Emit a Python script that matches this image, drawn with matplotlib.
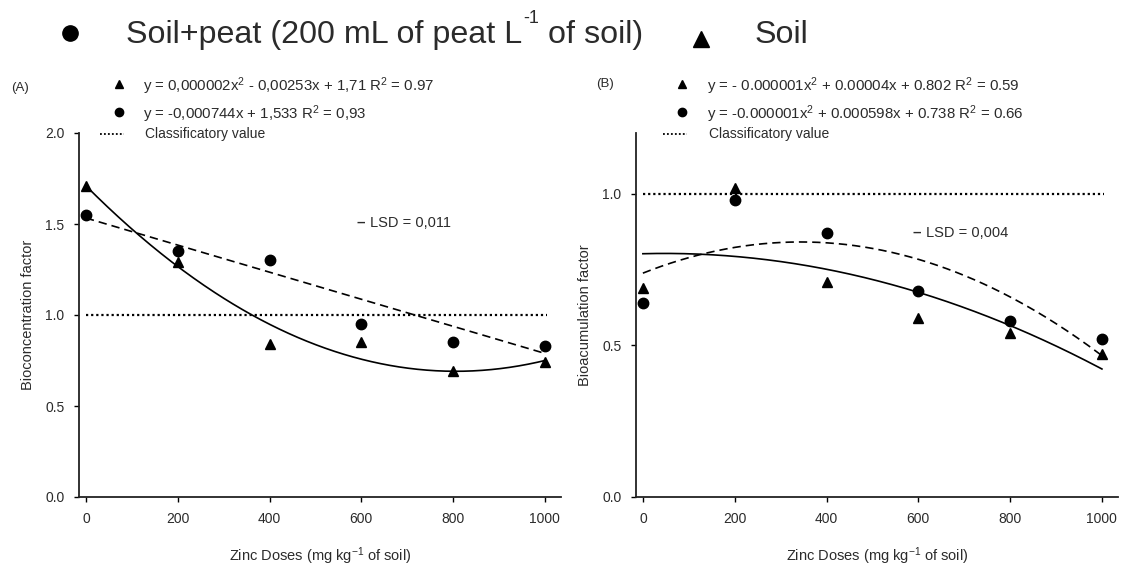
import numpy as np
import matplotlib
matplotlib.use("Agg")
import matplotlib.pyplot as plt
from matplotlib.lines import Line2D

plt.rcParams["font.family"] = ["Liberation Sans", "DejaVu Sans"]
plt.rcParams["mathtext.fontset"] = "custom"
plt.rcParams["mathtext.rm"] = "Liberation Sans"
plt.rcParams["mathtext.it"] = "Liberation Sans:italic"
plt.rcParams["mathtext.bf"] = "Liberation Sans:bold"

TEXT = "#2b2b2b"

# ---- data -------------------------------------------------------------
doses = [0, 200, 400, 600, 800, 1000]

# (A) bioconcentration factor
bcf_soil = [1.71, 1.29, 0.84, 0.85, 0.69, 0.74]
bcf_peat = [1.55, 1.35, 1.30, 0.95, 0.85, 0.83]
# (B) bioaccumulation factor
baf_soil = [0.69, 1.02, 0.71, 0.59, 0.54, 0.47]
baf_peat = [0.64, 0.98, 0.87, 0.68, 0.58, 0.52]

# fitted regression coefficients (a x^2 + b x + c)
fit_bcf_soil = [1.57e-6, -0.00253, 1.71]
fit_bcf_peat = [0.0, -0.000744, 1.533]
fit_baf_soil = [-4.2e-7, 0.00004, 0.802]
fit_baf_peat = [-8.7e-7, 0.000598, 0.738]

classificatory_value = 1.0

eq_a = ["y = 0,000002x$^2$ - 0,00253x + 1,71 R$^2$ = 0.97",
        "y = -0,000744x + 1,533 R$^2$ = 0,93"]
eq_b = ["y = - 0.000001x$^2$ + 0.00004x + 0.802 R$^2$ = 0.59",
        "y = -0.000001x$^2$ + 0.000598x + 0.738 R$^2$ = 0.66"]
lsd_a = "LSD = 0,011"
lsd_b = "LSD = 0,004"
lsd_pos_a = (590, 1.505)
lsd_pos_b = (587, 0.87)

xticks = [0, 200, 400, 600, 800, 1000]
yticks_a = [0.0, 0.5, 1.0, 1.5, 2.0]
yticks_b = [0.0, 0.5, 1.0]

# ---- figure -------------------------------------------------------------
W, H = 1122, 565
fig = plt.figure(figsize=(W / 100, H / 100), dpi=100)


def fx(px):
    return px / W


def fy(py):
    return 1 - py / H


axA = fig.add_axes([fx(79), fy(497), fx(482), (497 - 133) / H])
axB = fig.add_axes([fx(636), fy(497), fx(482), (497 - 133) / H])

xs = np.linspace(0, 1000, 300)


def draw_panel(ax, soil, peat, fit_soil, fit_peat, ylim, yticks, ylabel,
               lsd_text, lsd_pos):
    ax.plot(xs, np.polyval(fit_soil, xs), color="black", lw=1.2, zorder=2)
    ax.plot(xs, np.polyval(fit_peat, xs), color="black", lw=1.2,
            linestyle=(0, (5, 3)), zorder=2)
    ax.plot([0, 1005], [classificatory_value] * 2, color="black", lw=1.6,
            linestyle=(0, (1, 1.3)), zorder=1)
    ax.plot(doses, soil, linestyle="none", marker="^", ms=7.5,
            color="black", zorder=3)
    ax.plot(doses, peat, linestyle="none", marker="o", ms=7.5,
            color="black", zorder=3)
    ax.set_xlim(-15, 1035)
    ax.set_ylim(*ylim)
    ax.set_xticks(xticks)
    ax.set_yticks(yticks)
    ax.set_yticklabels([f"{v:.1f}" for v in yticks])
    for s in ("top", "right"):
        ax.spines[s].set_visible(False)
    for s in ("left", "bottom"):
        ax.spines[s].set_linewidth(1.3)
        ax.spines[s].set_color("#222222")
    ax.tick_params(direction="out", length=3.5, width=1.0, labelsize=10,
                   labelcolor=TEXT, pad=7)
    ax.set_xlabel("Zinc Doses (mg kg$^{-1}$ of soil)", fontsize=10.5,
                  color=TEXT, va="baseline")
    ax.xaxis.set_label_coords(0.5, -0.175)
    ax.set_ylabel(ylabel, fontsize=10.5, color=TEXT)
    ax.yaxis.set_label_coords(-0.092, 0.5)
    ax.text(lsd_pos[0], lsd_pos[1], "\u2013", fontsize=11, fontweight="bold",
            ha="left", va="center", color=TEXT)
    ax.text(lsd_pos[0] + 30, lsd_pos[1], lsd_text, fontsize=10.5,
            ha="left", va="center", color=TEXT)


draw_panel(axA, bcf_soil, bcf_peat, fit_bcf_soil, fit_bcf_peat, (0, 2.0),
           yticks_a, "Bioconcentration factor", lsd_a, lsd_pos_a)
draw_panel(axB, baf_soil, baf_peat, fit_baf_soil, fit_baf_peat, (0, 1.2),
           yticks_b, "Bioacumulation factor", lsd_b, lsd_pos_b)


def key(xp, yp, **kw):
    fig.add_artist(Line2D([fx(xp)], [fy(yp)], transform=fig.transFigure,
                          linestyle="none", color="black", **kw))


def equation_block(tag, x_tag, y_tag, x_marker, x_text, eqs):
    fig.text(fx(x_tag), fy(y_tag), tag, fontsize=9.5, color=TEXT,
             va="center", ha="left")
    key(x_marker, 84, marker="^", ms=6)
    key(x_marker, 112, marker="o", ms=6)
    fig.text(fx(x_text), fy(86), eqs[0], fontsize=10.8, color=TEXT,
             va="center")
    fig.text(fx(x_text), fy(114), eqs[1], fontsize=10.8, color=TEXT,
             va="center")
    fig.add_artist(Line2D([fx(x_marker - 19), fx(x_marker + 5)], [fy(134)] * 2,
                          transform=fig.transFigure, color="black", lw=1.3,
                          linestyle=(0, (1, 1.2))))
    fig.text(fx(x_text + 2), fy(134), "Classificatory value", fontsize=10,
             color=TEXT, va="center")


equation_block("(A)", 11, 88, 119, 143, eq_a)
equation_block("(B)", 596, 84, 682, 707, eq_b)

# series legend along the top
renderer = fig.canvas.get_renderer()
key(70, 33, marker="o", ms=11)
big = 23.2
t1 = fig.text(fx(126), fy(43), "Soil+peat (200 mL of peat L", fontsize=big,
              color=TEXT, va="baseline")
x1 = t1.get_window_extent(renderer).x1
t2 = fig.text(x1 / W + fx(1), fy(23), "-1", fontsize=13, color=TEXT,
              va="baseline")
x2 = t2.get_window_extent(renderer).x1
fig.text(x2 / W, fy(43), " of soil)", fontsize=big, color=TEXT,
         va="baseline")
key(701, 39, marker="^", ms=11)
fig.text(fx(755), fy(43), "Soil", fontsize=big, color=TEXT, va="baseline")

fig.savefig("out.png", dpi=100, facecolor="white")
